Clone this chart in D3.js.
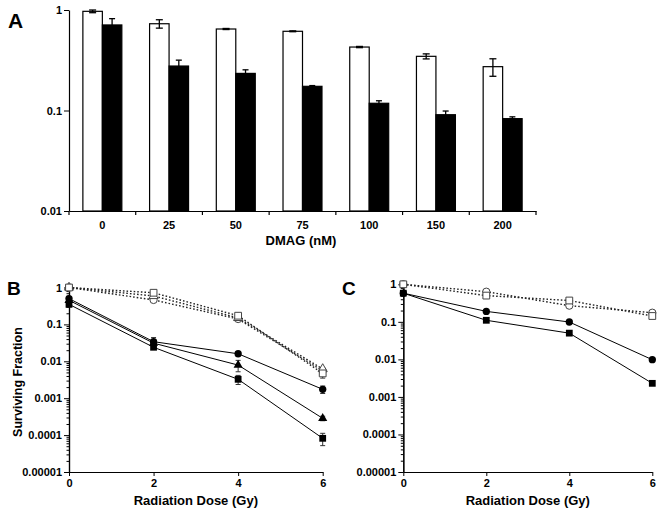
<!DOCTYPE html>
<html><head><meta charset="utf-8">
<script src="https://cdn.jsdelivr.net/npm/d3@7"></script>
<style>
body{margin:0;background:#fff}
svg{display:block}
text{font-family:"Liberation Sans",Arial,Helvetica,sans-serif;font-weight:bold}
</style>
</head><body>
<svg id="chart" width="664" height="513"></svg>
<script>
// ---------- Panel A data ----------
const dmagDoses = ["0","25","50","75","100","150","200"];
const ctrlMean  = [0.97, 0.73, 0.647, 0.614, 0.428, 0.346, 0.273];
const ctrlErr   = [0.03, 0.07, 0.008, 0.006, 0.006, 0.02, 0.054];
const dmagMean  = [0.71, 0.277, 0.234, 0.174, 0.118, 0.0908, 0.083];
const dmagErr   = [0.11, 0.04, 0.02, 0.003, 0.007, 0.008, 0.0035];
const aTicks    = [1, 0.1, 0.01];

// ---------- Panels B / C data ----------
const radDose = [0, 2, 4, 6];
const logTicks = [1, 0.1, 0.01, 0.001, 0.0001, 0.00001];

const bSolidCircle     = [0.5, 0.034, 0.016, 0.00174];
const bSolidCircleErr  = [0.05, 0.01, 0.002, 0.0004];
const bSolidTri        = [0.45, 0.031, 0.0079, 0.000285];
const bSolidTriErr     = [0.05, 0.005, 0.0027, 0.00004];
const bSolidSquare     = [0.35, 0.024, 0.00325, 0.0000818];
const bSolidSquareErr  = [0.05, 0.003, 0.0009, 0.00003];
const bOpenCircle      = [1, 0.46, 0.14, 0.0055];
const bOpenTri         = [1, 0.59, 0.15, 0.0062];
const bOpenSquare      = [1, 0.72, 0.172, 0.0047];
const bOpenSquareErr   = [0, 0.05, 0.02, 0.0012];

const cSolidCircle     = [0.58, 0.19, 0.099, 0.0098];
const cSolidSquare     = [0.58, 0.11, 0.05, 0.0023];
const cOpenCircle      = [1, 0.635, 0.27, 0.175];
const cOpenSquare      = [1, 0.5, 0.37, 0.143];

const svg = d3.select("#chart");
const FONT = 11;

function styleAxis(g, fs){
  g.attr("font-size", fs || FONT).attr("font-family", null);
  g.selectAll("path.domain").attr("stroke","#000").attr("stroke-width",1.2);
  g.selectAll(".tick line").attr("stroke","#000");
  g.selectAll(".tick text").attr("fill","#000");
}

// ================= Panel A =================
const yA = d3.scaleLog().domain([0.01, 1]).range([211, 10]);
const xA = d3.scaleBand().domain(dmagDoses).range([69, 536]);
const bw = xA.bandwidth() * 0.292;

const gA = svg.append("g");
dmagDoses.forEach((d, i) => {
  const cx = xA(d) + xA.bandwidth() / 2;
  gA.append("rect").attr("x", cx - bw).attr("y", yA(ctrlMean[i]))
    .attr("width", bw).attr("height", yA(0.01) - yA(ctrlMean[i]))
    .attr("fill", "#fff").attr("stroke", "#000").attr("stroke-width", 1.2);
  gA.append("rect").attr("x", cx).attr("y", yA(dmagMean[i]))
    .attr("width", bw).attr("height", yA(0.01) - yA(dmagMean[i]))
    .attr("fill", "#000").attr("stroke", "#000").attr("stroke-width", 1.2);
  const eb = (x, m, e, cap, col) => {
    const y1 = yA(m + e), y2 = yA(Math.max(m - e, 0.0101));
    gA.append("line").attr("x1", x).attr("x2", x).attr("y1", y1).attr("y2", y2).attr("stroke", col).attr("stroke-width", 1.3);
    gA.append("line").attr("x1", x - cap).attr("x2", x + cap).attr("y1", y1).attr("y2", y1).attr("stroke", col).attr("stroke-width", 1.3);
    gA.append("line").attr("x1", x - cap).attr("x2", x + cap).attr("y1", y2).attr("y2", y2).attr("stroke", col).attr("stroke-width", 1.3);
  };
  eb(cx - bw / 2, ctrlMean[i], ctrlErr[i], 3.5, "#000");
  eb(cx + bw / 2, dmagMean[i], dmagErr[i], 3, "#000");
});
gA.append("g").attr("transform", "translate(69,0)")
  .call(d3.axisLeft(yA).tickValues(aTicks).tickFormat(d => String(d)).tickSize(5).tickSizeOuter(0).tickPadding(2))
  .call(g => styleAxis(g, 11));
gA.append("g").attr("transform", "translate(0,211)")
  .call(d3.axisBottom(xA).tickSize(0).tickPadding(10).tickSizeOuter(0))
  .call(g => styleAxis(g, 11));
for (let i = 0; i <= dmagDoses.length; i++) {
  const x = xA.range()[0] + i * xA.step();
  gA.append("line").attr("x1", x).attr("x2", x).attr("y1", 211).attr("y2", 215).attr("stroke", "#000").attr("stroke-width", 1.2);
}
gA.append("text").attr("x", 301).attr("y", 245).attr("text-anchor", "middle").attr("font-size", 13).text("DMAG (nM)");
svg.append("text").attr("x", 8).attr("y", 28).attr("font-size", 21).text("A");

// ================= Panels B & C =================
function survivalPanel(x0, x1, yTop, letter, letterX, solid, open, showYLabel) {
  const x = d3.scaleLinear().domain([0, 6]).range([x0, x1]);
  const y = d3.scaleLog().domain([0.00001, 1]).range([472, yTop]);
  const g = svg.append("g");

  const minor = [];
  for (let e = -5; e < 0; e++) for (let k = 2; k <= 9; k++) minor.push(k * Math.pow(10, e));
  g.append("g").attr("transform", `translate(${x0},0)`)
    .call(d3.axisLeft(y).tickValues(minor).tickFormat("").tickSize(2.5).tickSizeOuter(0))
    .call(gg => styleAxis(gg));
  g.append("g").attr("transform", `translate(${x0},0)`)
    .call(d3.axisLeft(y).tickValues(logTicks).tickFormat(d => String(d)).tickSize(5).tickSizeOuter(0).tickPadding(2))
    .call(gg => styleAxis(gg));
  g.append("g").attr("transform", "translate(0,472)")
    .call(d3.axisBottom(x).tickValues(radDose).tickFormat(d3.format("d")).tickSize(4).tickSizeOuter(0).tickPadding(3))
    .call(gg => styleAxis(gg));

  const line = d3.line().x((d, i) => x(radDose[i])).y(d => y(d));

  open.forEach(s => {
    g.append("path").attr("d", line(s.v)).attr("fill", "none").attr("stroke", "#222")
      .attr("stroke-width", 1.4).attr("stroke-dasharray", "1.6,2");
  });
  solid.forEach(s => {
    g.append("path").attr("d", line(s.v)).attr("fill", "none").attr("stroke", "#000").attr("stroke-width", 1);
  });
  [...open, ...solid].forEach(s => {
    if (!s.e) return;
    s.v.forEach((v, i) => {
      const e = s.e[i]; if (!e) return;
      const xx = x(radDose[i]);
      const y1 = y(v + e), y2 = y(Math.max(v - e, v * 0.3));
      g.append("line").attr("x1", xx).attr("x2", xx).attr("y1", y1).attr("y2", y2).attr("stroke", "#333").attr("stroke-width", 1);
      [y1, y2].forEach(yy => g.append("line").attr("x1", xx - 2.5).attr("x2", xx + 2.5).attr("y1", yy).attr("y2", yy).attr("stroke", "#333").attr("stroke-width", 1));
    });
  });
  const symbols = { circle: [d3.symbolCircle, 42], square: [d3.symbolSquare, 46], triangle: [d3.symbolTriangle, 36] };
  open.forEach(s => {
    s.v.forEach((v, i) => {
      g.append("path").attr("d", d3.symbol().type(symbols[s.m][0]).size(symbols[s.m][1])())
        .attr("transform", `translate(${x(radDose[i])},${y(v)})`)
        .attr("fill", "#fff").attr("stroke", "#444").attr("stroke-width", 1);
    });
  });
  solid.forEach(s => {
    s.v.forEach((v, i) => {
      g.append("path").attr("d", d3.symbol().type(symbols[s.m][0]).size(symbols[s.m][1])())
        .attr("transform", `translate(${x(radDose[i])},${y(v)})`)
        .attr("fill", "#000");
    });
  });

  g.append("text").attr("x", (x0 + x1) / 2).attr("y", 505).attr("text-anchor", "middle").attr("font-size", 13).text("Radiation Dose (Gy)");
  if (showYLabel) {
    g.append("text").attr("transform", "translate(22,382) rotate(-90)").attr("text-anchor", "middle").attr("font-size", 12.5).text("Surviving Fraction");
  }
  svg.append("text").attr("x", letterX).attr("y", 295).attr("font-size", 19).text(letter);
}

survivalPanel(69, 322.7, 287.5, "B", 7,
  [{ v: bSolidCircle, e: bSolidCircleErr, m: "circle" },
   { v: bSolidTri, e: bSolidTriErr, m: "triangle" },
   { v: bSolidSquare, e: bSolidSquareErr, m: "square" }],
  [{ v: bOpenCircle, m: "circle" },
   { v: bOpenTri, m: "triangle" },
   { v: bOpenSquare, e: bOpenSquareErr, m: "square" }],
  true);

survivalPanel(403.3, 652.3, 284.3, "C", 342,
  [{ v: cSolidCircle, m: "circle" },
   { v: cSolidSquare, m: "square" }],
  [{ v: cOpenCircle, m: "circle" },
   { v: cOpenSquare, m: "square" }],
  false);
</script>
</body></html>
